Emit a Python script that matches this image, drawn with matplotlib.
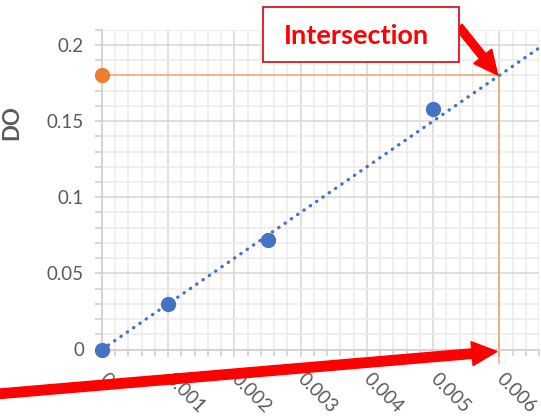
import matplotlib
matplotlib.use("Agg")
import matplotlib.pyplot as plt
from matplotlib.ticker import MultipleLocator
from matplotlib.patches import FancyArrow, Rectangle
from matplotlib.transforms import IdentityTransform

# ---- data ----
conc = [0.0, 0.001, 0.0025, 0.005]
do_vals = [0.0, 0.030, 0.072, 0.158]
unknown_x = [0.0]
unknown_y = [0.18]
trend_x = [0.0, 0.0066]
trend_y = [0.0, 0.198]
intersect_x = 0.006
intersect_y = 0.18
xticks = [0, 0.001, 0.002, 0.003, 0.004, 0.005, 0.006]
xticklabels = ["0", "0.001", "0.002", "0.003", "0.004", "0.005", "0.006"]
yticks = [0, 0.05, 0.1, 0.15, 0.2]
yticklabels = ["0", "0.05", "0.1", "0.15", "0.2"]

plt.rcParams['font.family'] = ['Lato', 'DejaVu Sans']

W, H = 541, 416
fig = plt.figure(figsize=(W / 100, H / 100), dpi=100)
ax = fig.add_axes([102 / W, 1 - 349.5 / H, (539 - 102) / W, (349.5 - 29.8) / H])

ax.set_xlim(0, 0.0066)
ax.set_ylim(0, 0.21)

ax.xaxis.set_major_locator(MultipleLocator(0.001))
ax.xaxis.set_minor_locator(MultipleLocator(0.0002))
ax.yaxis.set_major_locator(MultipleLocator(0.05))
ax.yaxis.set_minor_locator(MultipleLocator(0.01))

ax.grid(which='major', color='#d9d9d9', linewidth=1.2, zorder=0)
ax.grid(which='minor', color='#ececec', linewidth=1.2, zorder=0)
ax.set_axisbelow(True)

for s in ['top', 'right']:
    ax.spines[s].set_visible(False)
for s in ['left', 'bottom']:
    ax.spines[s].set_color('#d0d0d0')
    ax.spines[s].set_linewidth(1.2)

ax.tick_params(which='both', color='#d0d0d0', width=1.2)
ax.tick_params(axis='y', which='major', length=5, labelsize=13.5, labelcolor='#595959', pad=8)
ax.tick_params(axis='y', which='minor', length=5)
ax.tick_params(axis='x', which='major', length=5, labelsize=13.5, labelcolor='#595959', pad=14)
ax.tick_params(axis='x', which='minor', length=4)

ax.set_yticks(yticks)
ax.set_yticklabels(yticklabels)
ax.set_xticks(xticks)
ax.set_xticklabels(xticklabels, rotation=-45, ha='left', va='center', rotation_mode='anchor')

ax.set_ylabel("DO", fontsize=16, fontweight='bold', color='#595959')
ax.yaxis.set_label_coords(-0.183, 0.71)

# trendline
ax.plot(trend_x, trend_y, color='#4472C4', linewidth=2.4,
        linestyle=(0, (0.1, 2.2)), dash_capstyle='round', zorder=3)

# orange guide lines
ax.plot([0, intersect_x], [intersect_y, intersect_y], color='#ED7D31', alpha=0.5,
        linewidth=1.4, zorder=2)
ax.plot([intersect_x, intersect_x], [intersect_y, -0.009], color='#ED7D31', alpha=0.5,
        linewidth=1.4, zorder=2, clip_on=False)

# points
ax.plot(conc, do_vals, 'o', color='#4472C4', markersize=10, zorder=4, clip_on=False)
ax.plot(unknown_x, unknown_y, 'o', color='#ED7D31', markersize=10, zorder=4, clip_on=False)

# annotation box
ident = IdentityTransform()
rect = Rectangle((263, H - 62), 196, 55, transform=ident, facecolor='white',
                 edgecolor='#e0141e', linewidth=1.3, zorder=10)
fig.add_artist(rect)
fig.text(356 / W, 1 - 36.5 / H, "Intersection", color='#ff0000', fontsize=19.5,
         fontweight='bold', ha='center', va='center', zorder=11)

# arrows (pixel coordinates)
a1 = FancyArrow(459, H - 26.8, 497.7 - 459, (H - 75) - (H - 26.8), width=8,
                head_width=23, head_length=24, length_includes_head=True,
                color='#ff0000', transform=ident, zorder=9)
fig.add_artist(a1)
a2 = FancyArrow(-3, H - 394, 497 - (-3), (H - 351.5) - (H - 394), width=9.5,
                head_width=24, head_length=25, length_includes_head=True,
                color='#ff0000', transform=ident, zorder=9)
fig.add_artist(a2)

fig.savefig("out.png", dpi=100)
